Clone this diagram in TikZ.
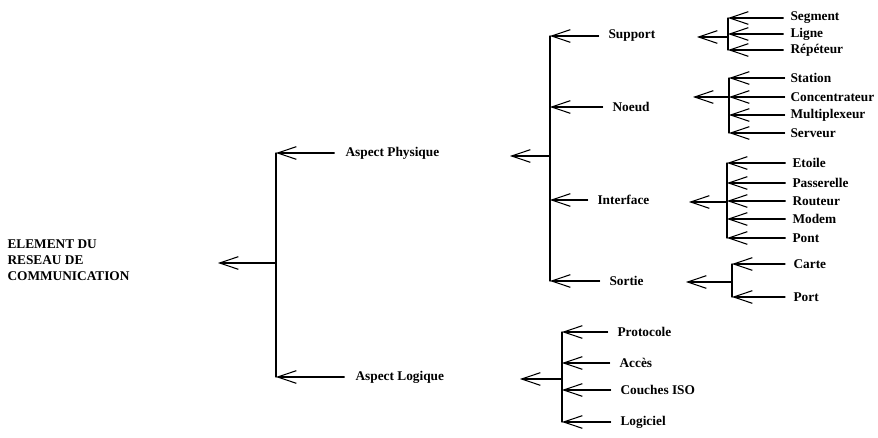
\documentclass[tikz,border=0pt]{standalone}
\usepackage{fontspec}
\setmainfont{Liberation Serif}
\usetikzlibrary{arrows.meta}
\begin{document}
\begin{tikzpicture}[line cap=round, line join=round, line width=0.8pt, font=\bfseries\fontsize{10}{12}\selectfont, >={Straight Barb[length=14pt,width=9.5pt]}, x=0.75pt, y=-0.75pt]
	\tikzset{item/.style={anchor=west, inner sep=0pt}}
	\useasboundingbox (0,0) rectangle (878,438);
	% racine
	\node[item, align=left] (elem) at (7,260) {ELEMENT DU\\RESEAU DE\\COMMUNICATION};
	\node[item] (phys) at (345,153) {Aspect Physique};
	\node[item] (logi) at (355,377) {Aspect Logique};
	\coordinate (bar0) at (276,263);
	\coordinate (elemtip) at (218,263);
	\draw (phys.west -| bar0) -- (logi.west -| bar0);
	\draw[->] (bar0) -- (elemtip);
	\foreach \n in {phys,logi} \draw[->] ([xshift=-8pt]\n.west) -- (\n.west -| bar0);
	% aspect physique
	\node[item] (support) at (608,36) {Support};
	\node[item] (noeud) at (612,107) {Noeud};
	\node[item] (interface) at (597,200) {Interface};
	\node[item] (sortie) at (609,281) {Sortie};
	\coordinate (bar1) at (550,156);
	\coordinate (phystip) at (510,156);
	\draw (support.west -| bar1) -- (sortie.west -| bar1);
	\draw[->] (bar1) -- (phystip);
	\foreach \n in {support,noeud,interface,sortie} \draw[->] ([xshift=-7pt]\n.west) -- (\n.west -| bar1);
	% support
	\node[item] (segment) at (790,18) {Segment};
	\node[item] (ligne) at (790,34) {Ligne};
	\node[item] (repeteur) at (790,50) {Répéteur};
	\coordinate (bar2) at (728,37);
	\coordinate (supptip) at (697,37);
	\draw (segment.west -| bar2) -- (repeteur.west -| bar2);
	\draw[->] (bar2) -- (supptip);
	\foreach \n in {segment,ligne,repeteur} \draw[->] ([xshift=-5pt]\n.west) -- (\n.west -| bar2);
	% noeud
	\node[item] (station) at (790,78) {Station};
	\node[item] (concentrateur) at (790,97) {Concentrateur};
	\node[item] (multiplexeur) at (790,115) {Multiplexeur};
	\node[item] (serveur) at (790,133) {Serveur};
	\coordinate (bar3) at (729,97);
	\coordinate (noeudtip) at (693,97);
	\draw (station.west -| bar3) -- (serveur.west -| bar3);
	\draw[->] (bar3) -- (noeudtip);
	\foreach \n in {station,concentrateur,multiplexeur,serveur} \draw[->] ([xshift=-4pt]\n.west) -- (\n.west -| bar3);
	% interface
	\node[item] (etoile) at (792,163) {Etoile};
	\node[item] (passerelle) at (792,183) {Passerelle};
	\node[item] (routeur) at (792,201) {Routeur};
	\node[item] (modem) at (792,219) {Modem};
	\node[item] (pont) at (792,238) {Pont};
	\coordinate (bar4) at (727,202);
	\coordinate (intertip) at (689,202);
	\draw (etoile.west -| bar4) -- (pont.west -| bar4);
	\draw[->] (bar4) -- (intertip);
	\foreach \n in {etoile,passerelle,routeur,modem,pont} \draw[->] ([xshift=-5pt]\n.west) -- (\n.west -| bar4);
	% sortie
	\node[item] (carte) at (793,264) {Carte};
	\node[item] (port) at (793,297) {Port};
	\coordinate (bar5) at (732,282);
	\coordinate (sortietip) at (686,282);
	\draw (carte.west -| bar5) -- (port.west -| bar5);
	\draw[->] (bar5) -- (sortietip);
	\foreach \n in {carte,port} \draw[->] ([xshift=-6pt]\n.west) -- (\n.west -| bar5);
	% aspect logique
	\node[item] (protocole) at (617,332) {Protocole};
	\node[item] (acces) at (619,363) {Accès};
	\node[item] (couches) at (620,390) {Couches ISO};
	\node[item] (logiciel) at (620,422) {Logiciel};
	\coordinate (bar6) at (562,379);
	\coordinate (logitip) at (520,379);
	\draw (protocole.west -| bar6) -- (logiciel.west -| bar6);
	\draw[->] (bar6) -- (logitip);
	\foreach \n in {protocole,acces,couches,logiciel} \draw[->] ([xshift=-7pt]\n.west) -- (\n.west -| bar6);
\end{tikzpicture}
\end{document}
